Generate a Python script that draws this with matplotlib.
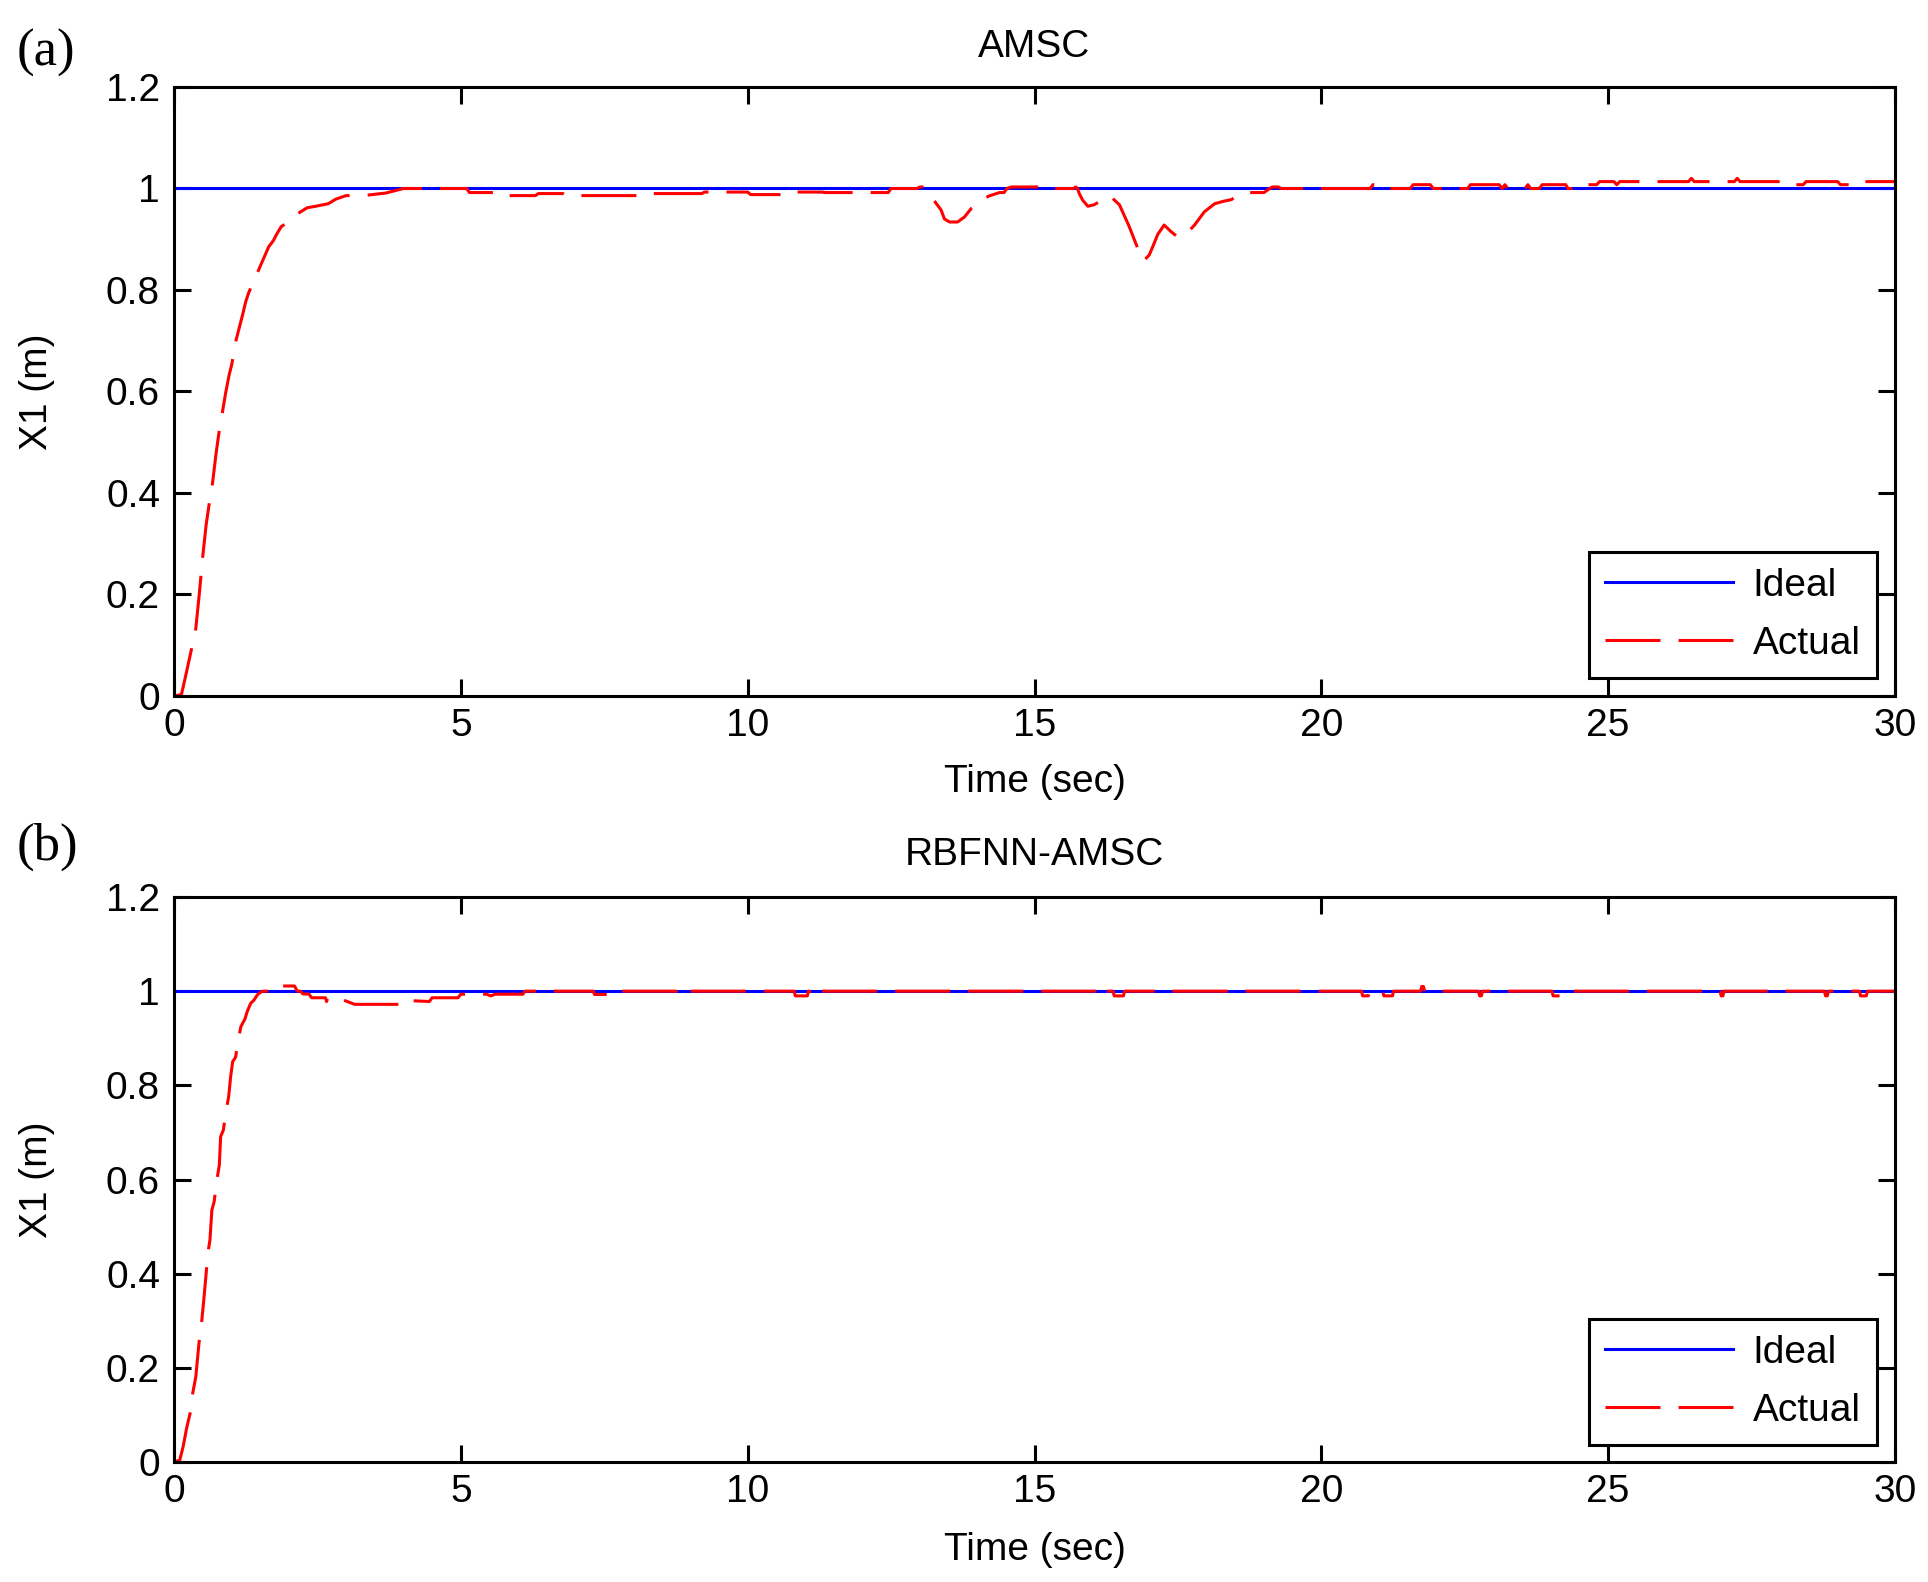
import matplotlib
matplotlib.use("Agg")
import matplotlib.pyplot as plt
from matplotlib.lines import Line2D

plt.rcParams['font.family'] = ['Liberation Sans', 'DejaVu Sans']
plt.rcParams['lines.scale_dashes'] = False

# ---------------- data ----------------
x_ticks = [0, 5, 10, 15, 20, 25, 30]
y_ticks = [0, 0.2, 0.4, 0.6, 0.8, 1.0, 1.2]
y_tick_labels = ['0', '0.2', '0.4', '0.6', '0.8', '1', '1.2']
titles = ['AMSC', 'RBFNN-AMSC']
panel_tags = ['(a)', '(b)']
series_names = ['Ideal', 'Actual']
ideal_value = 1.0

# (a) AMSC actual response
t_a_rise = [0, 0.13, 0.20, 0.31, 0.38, 0.44, 0.50, 0.56, 0.61, 0.67, 0.73, 0.78, 0.84, 0.90, 0.96,
            1.01, 1.07, 1.14, 1.20, 1.25, 1.30, 1.45, 1.52, 1.59, 1.65, 1.73, 1.79, 1.87, 1.98]
x_a_rise = [0, 0.003, 0.038, 0.095, 0.133, 0.200, 0.274, 0.337, 0.376, 0.418, 0.475, 0.516, 0.556, 0.597, 0.632,
            0.655, 0.696, 0.727, 0.753, 0.777, 0.794, 0.833, 0.851, 0.869, 0.885, 0.897, 0.910, 0.925, 0.933]
t_a_settle = [2.15, 2.32, 2.47, 2.69, 2.82, 3.00, 3.30, 3.69, 4.00, 5.10,
              5.15, 5.70, 5.75, 6.30, 6.35, 6.78, 6.83, 8.30, 8.35, 9.20,
              9.25, 10.00, 10.05, 10.60, 10.65, 11.30, 11.35, 12.45, 12.50, 12.95,
              13.00, 13.05, 13.10]
x_a_settle = [0.950, 0.962, 0.965, 0.970, 0.979, 0.986, 0.986, 0.991, 1.000, 1.000,
              0.992, 0.992, 0.986, 0.986, 0.990, 0.990, 0.986, 0.986, 0.990, 0.990,
              0.993, 0.993, 0.988, 0.988, 0.993, 0.993, 0.992, 0.992, 1.000, 1.000,
              1.003, 1.003, 1.000]
t_a_dist = [13.29, 13.37, 13.43, 13.52, 13.66, 13.78, 13.90, 14.04, 14.20, 14.39,
            14.47, 14.52, 14.60, 15.17, 15.22, 15.28, 15.33, 15.38, 15.68, 15.72,
            15.75, 15.78, 15.84, 15.93, 16.04, 16.22, 16.31, 16.48, 16.64, 16.71,
            16.80, 16.90, 17.00, 17.06, 17.15, 17.26, 17.38, 17.50, 17.64, 17.79,
            17.96, 18.14, 18.30, 18.43, 18.60, 18.70, 19.00, 19.10, 19.15, 19.25,
            19.30]
x_a_dist = [0.970, 0.958, 0.940, 0.934, 0.934, 0.944, 0.961, 0.974, 0.985, 0.992,
            0.992, 1.000, 1.003, 1.003, 1.000, 1.003, 1.003, 1.000, 1.000, 1.003,
            1.000, 0.990, 0.977, 0.965, 0.968, 0.980, 0.986, 0.968, 0.928, 0.908,
            0.882, 0.857, 0.869, 0.885, 0.910, 0.928, 0.915, 0.904, 0.910, 0.928,
            0.954, 0.970, 0.975, 0.978, 0.990, 0.992, 0.992, 1.000, 1.003, 1.003,
            1.000]
t_a_late = [20.85, 20.90, 21.10, 21.15, 21.55, 21.60, 21.90, 21.95, 22.55, 22.60,
            23.10, 23.15, 23.20, 23.25, 23.55, 23.60, 23.65, 23.80, 23.85, 24.26,
            24.30, 24.55, 24.60, 24.80, 24.85, 25.10, 25.15, 25.20, 26.00, 26.40,
            26.45, 26.50, 27.20, 27.25, 27.30, 28.00, 28.05, 28.40, 28.45, 29.00,
            29.05, 29.40, 29.45, 30.00]
x_a_late = [1.000, 1.0075, 1.0075, 1.000, 1.000, 1.0075, 1.0075, 1.000, 1.000, 1.0075,
            1.0075, 1.000, 1.0075, 1.000, 1.000, 1.0075, 1.000, 1.000, 1.0075, 1.0075,
            1.000, 1.000, 1.0075, 1.0075, 1.0136, 1.0136, 1.0075, 1.0136, 1.0136, 1.0136,
            1.020, 1.0136, 1.0136, 1.020, 1.0136, 1.0136, 1.0075, 1.0075, 1.0136, 1.0136,
            1.0075, 1.0075, 1.0136, 1.0136]

# (b) RBFNN-AMSC actual response
t_b_rise = [0, 0.10, 0.16, 0.22, 0.28, 0.32, 0.38, 0.435, 0.48, 0.52,
            0.56, 0.59, 0.627, 0.66, 0.70, 0.743, 0.79, 0.813, 0.86, 0.906,
            0.953, 0.987, 1.022, 1.074, 1.12, 1.167, 1.237, 1.277, 1.336, 1.394,
            1.452, 1.498, 1.56]
x_b_rise = [0, 0.004, 0.033, 0.072, 0.103, 0.142, 0.181, 0.252, 0.295, 0.345,
            0.400, 0.443, 0.472, 0.535, 0.553, 0.595, 0.631, 0.691, 0.705, 0.744,
            0.776, 0.818, 0.850, 0.860, 0.897, 0.925, 0.941, 0.957, 0.974, 0.981,
            0.992, 0.997, 1.000]
t_b_settle = [1.85, 1.90, 2.10, 2.15, 2.20, 2.25, 2.35, 2.40, 2.64, 2.66,
              2.68, 2.70, 2.85, 3.15, 4.08, 4.10, 4.45, 4.50, 4.95, 5.00,
              5.45, 5.52, 5.60, 6.08, 6.12]
x_b_settle = [1.000, 1.011, 1.011, 1.000, 1.000, 0.994, 0.994, 0.986, 0.986, 0.978,
              0.986, 0.986, 0.986, 0.972, 0.972, 0.980, 0.978, 0.986, 0.986, 0.9935,
              0.9935, 0.990, 0.9935, 0.9935, 1.000]
blip_start = [7.33, 8.77, 10.83, 11.10, 16.11, 16.39, 20.72, 21.09, 21.75, 22.76, 24.04, 26.97, 28.79, 29.40]
blip_end = [7.55, 8.92, 11.04, 11.20, 16.22, 16.55, 20.82, 21.24, 21.78, 22.79, 24.20, 27.00, 28.82, 29.50]
blip_value = [0.993, 0.993, 0.990, 0.990, 0.990, 0.990, 0.990, 0.990, 1.010, 0.990, 0.990, 0.990, 0.990, 0.990]
t_end = 30.0

# ---------------- assemble ----------------
t_amsc = t_a_rise + t_a_settle + t_a_dist + t_a_late
x_amsc = x_a_rise + x_a_settle + x_a_dist + x_a_late

t_rbf = t_b_rise + t_b_settle
x_rbf = x_b_rise + x_b_settle
for a, b, v in zip(blip_start, blip_end, blip_value):
    t_rbf += [a - 0.02, a, b, b + 0.02]
    x_rbf += [ideal_value, v, v, ideal_value]
t_rbf.append(t_end)
x_rbf.append(ideal_value)

# ---------------- figure ----------------
W, H = 1928, 1582
fig = plt.figure(figsize=(W / 100, H / 100), dpi=100)

# axes pixel boxes: left, right, top, bottom
boxes = [(174, 1895, 87, 696), (174, 1895, 897, 1462)]
series = [(t_amsc, x_amsc), (t_rbf, x_rbf)]
title_y = [47, 855]
xlabel_y = [782, 1550]
tag_xy = [(46, 53), (47, 847)]
legend_br = [(1877, 678), (1877, 1445)]

dash = (0, (39.6, 13.0))
lw = 2.2
fs = 28

for i in range(2):
    l, r, t, b = boxes[i]
    ax = fig.add_axes([l / W, 1 - b / H, (r - l) / W, (b - t) / H])
    tt, xx = series[i]
    ax.plot([0, t_end], [ideal_value, ideal_value], color='#0000ff', lw=lw, solid_capstyle='butt')
    ax.plot(tt, xx, color='#ff0000', lw=lw, linestyle=dash, dash_capstyle='butt')
    ax.set_xlim(0, 30)
    ax.set_ylim(0, 1.2)
    ax.set_xticks(x_ticks)
    ax.set_xticklabels([str(v) for v in x_ticks])
    ax.set_yticks(y_ticks)
    ax.set_yticklabels(y_tick_labels)
    ax.tick_params(direction='in', length=12, width=2.2, top=True, right=True,
                   labelsize=fs, colors='black')
    ax.tick_params(axis='x', pad=9)
    ax.tick_params(axis='y', pad=10)
    for s in ax.spines.values():
        s.set_linewidth(2.2)
        s.set_color('black')

    h = b - t
    ax.set_xlabel('Time (sec)', fontsize=fs)
    ax.xaxis.set_label_coords(0.5, (b - xlabel_y[i]) / h)
    ax.xaxis.label.set_verticalalignment('center')
    ax.set_ylabel('X1 (m)', fontsize=fs)
    ax.yaxis.set_label_coords((37 - l) / (r - l), 0.5)
    ax.yaxis.label.set_verticalalignment('center')

    ax.text(0.5, (b - title_y[i]) / h, titles[i], transform=ax.transAxes,
            ha='center', va='center', fontsize=fs)

    fig.text(tag_xy[i][0] / W, 1 - tag_xy[i][1] / H, panel_tags[i],
             family=['Liberation Serif', 'DejaVu Serif'], fontsize=38,
             ha='center', va='center')

    handles = [Line2D([], [], color='#0000ff', lw=lw),
               Line2D([], [], color='#ff0000', lw=lw, linestyle=(0, (39.6, 13.0)))]
    bx, by = legend_br[i]
    leg = ax.legend(handles, series_names, loc='lower right',
                    bbox_to_anchor=((bx - l) / (r - l), (b - by) / h),
                    borderaxespad=0, fontsize=fs, frameon=True, fancybox=False,
                    edgecolor='black', framealpha=1, handlelength=3.3,
                    handletextpad=0.5, borderpad=0.42, labelspacing=0.56)
    leg.get_frame().set_linewidth(2.2)

fig.savefig('out.png', dpi=100, facecolor='white')
